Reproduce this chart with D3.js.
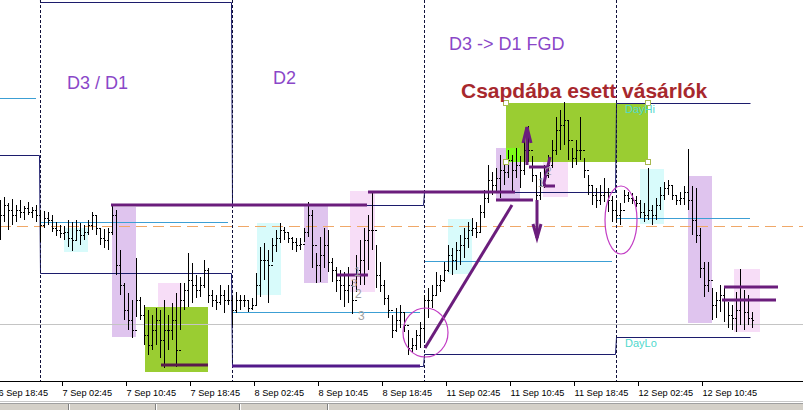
<!DOCTYPE html>
<html><head><meta charset="utf-8">
<script src="https://cdn.jsdelivr.net/npm/d3@7"></script>
<style>body{margin:0;background:#fff;overflow:hidden}svg{display:block}</style>
</head><body><svg id="c" width="803" height="410"></svg>
<script>
// ---- price data (M30 bars, price in pips: 1.2100 -> 2100) ----
const highs = [1900,1903,1897,1901,1895,1900,1894,1898,1893,1895,
1890,1889,1888,1885,1878,1875,1874,1880,1878,1880,1877,1875,1880,1888,1885,1872,1871,1872,1895,1890,
1850,1817,1807,1800,1842,1803,1795,1790,1785,1792,1790,1800,1785,1797,1807,1817,1817,1847,1837,1825,
1823,1840,1832,1810,1805,1815,1810,1815,
1804,1808,1805,1805,1800,1802,1827,1853,1857,1850,1862,1870,1877,1873,1867,1863,1862,1862,1872,1898,
1890,1847,1863,1872,1870,1842,1833,1830,1828,1833,1820,1845,1860,1872,1885,1908,1855,1838,1820,1805,
1785,1792,1795,1788,1770,1762,1770,1778,
1805,1812,1815,1828,1825,1838,1855,1852,1858,1865,1872,1878,1882,1878,1895,1910,1935,1928,1932,1945,
1938,1950,1945,1952,1944,1960,1974,1944,1925,1928,1935,1945,1960,1983,1990,1998,1980,1952,1960,1983,
1942,1925,1914,1912,1915,1922,1912,1904,
1900,1897,1910,1908,1907,1904,1900,1897,1932,1895,1902,1913,1918,1920,1914,1905,1908,1914,1951,1914,
1912,1872,1838,1838,1812,1808,1815,1814,1798,1795,1808,1831,1810,1805,1788];
const lows = [1860,1878,1870,1875,1878,1882,1880,1885,1882,1878,
1858,1872,1875,1868,1864,1862,1860,1853,1849,1860,1855,1860,1865,1870,1865,1855,1852,1850,1865,1825,
1805,1780,1770,1762,1783,1780,1755,1745,1750,1755,1742,1732,1750,1760,1733,1770,1790,1793,1797,1802,
1803,1812,1797,1793,1790,1795,1787,1795,
1775,1787,1790,1793,1788,1790,1795,1803,1820,1797,1838,1848,1857,1860,1857,1850,1848,1850,1858,1863,
1832,1817,1818,1832,1828,1818,1808,1800,1793,1797,1786,1808,1815,1815,1830,1850,1812,1808,1795,1782,
1762,1768,1772,1768,1745,1748,1750,1752,
1760,1782,1792,1805,1808,1818,1828,1825,1830,1835,1842,1852,1864,1862,1868,1882,1897,1905,1908,1902,
1915,1922,1908,1922,1912,1925,1938,1918,1862,1900,1912,1922,1932,1945,1950,1955,1940,1932,1935,1940,
1922,1905,1895,1892,1895,1898,1888,1878,
1877,1875,1897,1898,1896,1893,1882,1878,1880,1875,1880,1890,1900,1905,1900,1895,1895,1895,1890,1865,
1857,1822,1803,1808,1780,1782,1788,1778,1772,1770,1768,1775,1770,1775,1772];
const closes = [1885,1895,1890,1885,1890,1888,1892,1888,1890,1885,
1875,1882,1880,1872,1870,1867,1868,1862,1860,1870,1865,1868,1875,1885,1872,1862,1860,1868,1885,1835,
1815,1790,1780,1770,1800,1785,1765,1755,1770,1780,1760,1770,1770,1780,1750,1800,1810,1820,1815,1810,
1815,1830,1805,1800,1798,1805,1800,1800,
1790,1800,1800,1800,1792,1795,1815,1840,1840,1835,1855,1862,1870,1868,1862,1858,1855,1856,1868,1885,
1855,1835,1845,1855,1838,1830,1820,1815,1810,1815,1800,1830,1840,1860,1870,1870,1825,1815,1802,1790,
1770,1780,1788,1775,1752,1755,1765,1772,
1800,1800,1805,1815,1820,1830,1845,1840,1850,1855,1862,1870,1872,1868,1888,1902,1920,1915,1922,1930,
1928,1940,1930,1935,1930,1950,1950,1925,1905,1915,1925,1935,1950,1970,1975,1980,1960,1942,1950,1950,
1930,1915,1905,1900,1905,1908,1900,1890,
1885,1890,1905,1902,1900,1897,1888,1885,1890,1885,1895,1905,1912,1915,1905,1900,1902,1908,1900,1880,
1865,1832,1815,1820,1795,1800,1805,1800,1785,1782,1790,1800,1788,1782,1780];

// ---- days and daily levels ----
const dayStarts = [-10, 10, 58, 106, 154];
const dayLastBar = [9, 57, 105, 153, 188];
const prevDayHigh = [2150, 2098, 1895, 1908, 1997];
const prevDayLow  = [1945, 1827, 1734, 1746, 1763];
const pivotLevel  = [2002, 1878, 1788, 1839, 1882];
const grayLevel = 1776;
const orangeLevel = 1873.5;

// ---- time axis ----
const tickPos = [-0.5, 15.5, 31.5, 47.5, 63.5, 79.5, 95.5, 111.5, 127.5, 143.5, 159.5, 175.5];
const tickLabels = ["6 Sep 18:45","7 Sep 02:45","7 Sep 10:45","7 Sep 18:45","8 Sep 02:45","8 Sep 10:45",
  "8 Sep 18:45","11 Sep 02:45","11 Sep 10:45","11 Sep 18:45","12 Sep 02:45","12 Sep 10:45"];

// ---- rectangles: start bar, end bar, top price, bottom price, kind ----
const boxStart = [28, 39.5, 36.25, 16, 64.25, 76, 87.5, 112, 124, 126.5, 135.75, 160, 172, 183.5];
const boxEnd   = [34, 45.5, 52, 22, 70.25, 82, 93.75, 118, 130, 162, 142, 166, 178, 190];
const boxTop   = [1893, 1817, 1793, 1872, 1877, 1895, 1909, 1881, 1952, 1997, 1938, 1931, 1924, 1831];
const boxBot   = [1763, 1730, 1728, 1848, 1805, 1817, 1808, 1826, 1900, 1938, 1903, 1876, 1777, 1768];
const boxKind  = ["purple","pink","green","cyan","cyan","purple","pink","cyan","purple","green","pink","cyan","purple","pink"];
const boxColors = {purple:"#dfc4ee", pink:"#f7ddf7", green:"#9acd32", cyan:"#d8fbfb"};

// ---- trend lines: bar1, price1, bar2, price2 ----
const tlBar1  = [27.75, 92, 40.25, 58, 84.25, 124, 106.25, 181, 180.5];
const tlPrice1= [1895, 1908, 1735, 1734, 1825, 1900, 1752, 1813, 1800];
const tlBar2  = [91.75, 128.75, 52, 105, 92, 133.25, 128, 194.5, 194];
const tlPrice2= [1895, 1908, 1735, 1734, 1825, 1900, 1895, 1813, 1800];
const tlColor = ["#6b1d7c","#6b1d7c","#5a1a4c","#521a8a","#6b1d7c","#6b1d7c","#6b1d7c","#6b1d7c","#6b1d7c"];

// ---- arrows / drawn polylines (bar, price pairs) ----
const polyBars = [[131.75,131.75],[130.75,131.75,132.75],[134.25,134.25],[133.25,134.25,135.25],[132.25,137],[137.5,136,136.25,138.75]];
const polyPrices = [[1935,1973],[1957,1973,1957],[1900,1862],[1876,1862,1876],[1933,1933],[1943,1917,1914,1914]];

// ---- ellipses: bar1, bar2, top price, bottom price ----
const ellBar1 = [100.75, 151.25], ellBar2 = [112, 159.25], ellTop = [1792, 1914], ellBot = [1743, 1846];

// ---- text labels ----
const txt = ["D3 / D1","D2","D3 -> D1 FGD","Csapdába esett vásárlók","DayHi","DayLo","1","3","2","3","1","2"];
const txtBar = [16.75, 68.25, 112.25, 115.25, 156.25, 156.25, 88.5, 87.75, 88.75, 89.5, 134.5, 136.4];
const txtPrice = [2011, 2016, 2050, 2002, 1987, 1753, 1824, 1813, 1802, 1780, 1913, 1925];
const txtSize = [18, 18, 18, 21, 11, 11, 12, 11, 12, 12, 12, 11];
const txtColor = ["#8a47c8","#8a47c8","#8a47c8","#a7282d","#50d8cc","#50d8cc","#a0a0a0","#a0a0a0","#a0a0a0","#a0a0a0","#a0a0a0","#a0a0a0"];
const txtWeight = ["normal","normal","normal","bold","normal","normal","normal","normal","normal","normal","normal","normal"];

// ================== drawing ==================
const W = 803, H = 410, plotH = 381;
const svg = d3.select("#c");
const x = d3.scaleLinear().domain([0, 200.75]).range([0, W]);
const y = d3.scaleLinear().domain([1719, 2100]).range([plotH, 0]);

svg.append("defs").append("clipPath").attr("id","clip")
  .append("rect").attr("x",0).attr("y",0).attr("width",W).attr("height",plotH);
svg.append("rect").attr("width",W).attr("height",H).attr("fill","#fff");
const g = svg.append("g").attr("clip-path","url(#clip)");

// rectangles
const boxes = boxStart.map((s,i)=>({s, e:boxEnd[i], t:boxTop[i], b:boxBot[i], k:boxKind[i]}));
g.selectAll("rect.box").data(boxes).join("rect").attr("class","box")
  .attr("x",d=>x(d.s)).attr("y",d=>y(d.t))
  .attr("width",d=>x(d.e)-x(d.s)).attr("height",d=>y(d.b)-y(d.t))
  .attr("fill",d=>boxColors[d.k]);
// overlap of green rectangle over purple rectangle renders bright
boxes.forEach((a,i)=>{ if(a.k!=="green") return;
  boxes.forEach((b,j)=>{ if(b.k!=="purple") return;
    const s=Math.max(a.s,b.s), e=Math.min(a.e,b.e), t=Math.min(a.t,b.t), bo=Math.max(a.b,b.b);
    if(e>s && t>bo) g.append("rect").attr("x",x(s)).attr("y",y(t)).attr("width",x(e)-x(s)).attr("height",y(bo)-y(t)).attr("fill","#7dfc1a");
  });});

// full width horizontal levels
g.append("line").attr("x1",0).attr("x2",W).attr("y1",Math.round(y(grayLevel))+0.5).attr("y2",Math.round(y(grayLevel))+0.5)
  .attr("stroke","#c4c4c4").attr("stroke-width",1);
g.append("line").attr("x1",0).attr("x2",W).attr("y1",y(orangeLevel)).attr("y2",y(orangeLevel))
  .attr("stroke","#f0a868").attr("stroke-width",1.2).attr("stroke-dasharray","11,6");

// pivot (cyan) per day
dayStarts.forEach((s,d)=>{
  const yy = Math.round(y(pivotLevel[d]))+0.5;
  g.append("line").attr("x1",x(s)).attr("x2",x(d===4?187.5:dayLastBar[d]))
   .attr("y1",yy).attr("y2",yy).attr("stroke","#3c9fd4").attr("stroke-width",1);
});
// previous day high/low step lines (navy)
function stepPts(vals){
  const pts=[];
  dayStarts.forEach((s,d)=>{
    const e = d<4 ? x(dayStarts[d+1])-1 : x(187.5);
    const yy = Math.round(y(vals[d]))+0.5;
    pts.push([x(s)+0.5, yy],[e+0.5, yy]);
  });
  return pts;
}
[prevDayHigh, prevDayLow].forEach(vals=>{
  g.append("path").attr("d", d3.line()(stepPts(vals))).attr("fill","none")
   .attr("stroke","#1c1c6c").attr("stroke-width",1);
});

// day separators
dayStarts.slice(1).forEach(s=>{
  g.append("line").attr("x1",x(s)+0.5).attr("x2",x(s)+0.5).attr("y1",0).attr("y2",plotH)
   .attr("stroke","#10103a").attr("stroke-width",1).attr("stroke-dasharray","3,2");
});

// bars (HLC)
const bars = highs.map((h,i)=>({i,h,l:lows[i],c:closes[i],o: i>0?closes[i-1]:closes[i]}));
const bg = g.append("g").attr("stroke","#000").attr("stroke-width",1).attr("shape-rendering","crispEdges");
const bx = i => Math.round(x(i))+0.5;
bg.selectAll("line.hl").data(bars).join("line").attr("class","hl")
  .attr("x1",d=>bx(d.i)).attr("x2",d=>bx(d.i)).attr("y1",d=>Math.round(y(d.h))).attr("y2",d=>Math.round(y(d.l)));
bg.selectAll("line.cl").data(bars).join("line").attr("class","cl")
  .attr("x1",d=>bx(d.i)).attr("x2",d=>bx(d.i)+1.5).attr("y1",d=>Math.round(y(d.c))+0.5).attr("y2",d=>Math.round(y(d.c))+0.5);
bg.selectAll("line.op").data(bars).join("line").attr("class","op")
  .attr("x1",d=>bx(d.i)-1.5).attr("x2",d=>bx(d.i)).attr("y1",d=>Math.round(y(d.o))+0.5).attr("y2",d=>Math.round(y(d.o))+0.5);

// trend lines
tlBar1.forEach((b,i)=>{
  g.append("line").attr("x1",x(b)).attr("y1",y(tlPrice1[i])).attr("x2",x(tlBar2[i])).attr("y2",y(tlPrice2[i]))
   .attr("stroke",tlColor[i]).attr("stroke-width",3).attr("stroke-linecap","butt");
});
// arrows / polylines
polyBars.forEach((bs,i)=>{
  g.append("path").attr("d", d3.line()(bs.map((b,k)=>[x(b), y(polyPrices[i][k])])))
   .attr("fill","none").attr("stroke","#6b1d7c").attr("stroke-width",3).attr("stroke-linejoin","miter");
});
// ellipses
ellBar1.forEach((b,i)=>{
  const x1=x(b), x2=x(ellBar2[i]), y1=y(ellTop[i]), y2=y(ellBot[i]);
  g.append("ellipse").attr("cx",(x1+x2)/2).attr("cy",(y1+y2)/2).attr("rx",(x2-x1)/2).attr("ry",(y2-y1)/2)
   .attr("fill","none").attr("stroke","#c23cc4").attr("stroke-width",1.2);
});
// selection handles on the selected green rectangle
const sel = boxes[9];
[[sel.s,sel.t],[sel.s,sel.b],[sel.e,sel.b],[sel.e,sel.t]].forEach(([b,p])=>{
  g.append("rect").attr("x",Math.round(x(b))-2.5).attr("y",Math.round(y(p))-2.5).attr("width",5).attr("height",5)
   .attr("fill","#ffffff").attr("stroke","#a8b850").attr("stroke-width",1);
});
// texts
txt.forEach((t,i)=>{
  g.append("text").attr("x",x(txtBar[i])).attr("y",y(txtPrice[i])).text(t)
   .attr("font-family","'Liberation Sans', Arial, sans-serif").attr("font-size",txtSize[i])
   .attr("font-weight",txtWeight[i]).attr("fill",txtColor[i]);
});

// ---- time axis ----
const ax = svg.append("g").attr("shape-rendering","crispEdges");
ax.append("line").attr("x1",0).attr("x2",W).attr("y1",plotH+0.5).attr("y2",plotH+0.5).attr("stroke","#000");
tickPos.forEach((p,i)=>{
  ax.append("line").attr("x1",Math.round(x(p))+0.5).attr("x2",Math.round(x(p))+0.5).attr("y1",plotH+1).attr("y2",plotH+5).attr("stroke","#000");
  ax.append("text").attr("x",x(p)+0.5).attr("y",plotH+14.5).text(tickLabels[i])
    .attr("font-family","'Liberation Sans', Arial, sans-serif").attr("font-size",9.2).attr("fill","#000");
});
// bottom tab strip
svg.append("line").attr("x1",0).attr("x2",W).attr("y1",401.5).attr("y2",401.5).attr("stroke","#c8c8c8");
svg.append("rect").attr("x",0).attr("y",403).attr("width",W).attr("height",7).attr("fill","#d4d0c8");
svg.append("line").attr("x1",0).attr("x2",W).attr("y1",403.5).attr("y2",403.5).attr("stroke","#a0a0a0");
[68,155,239,327].forEach(px=>{
  svg.append("line").attr("x1",px+0.5).attr("x2",px+0.5).attr("y1",404).attr("y2",410).attr("stroke","#808080");
  svg.append("line").attr("x1",px+1.5).attr("x2",px+1.5).attr("y1",404).attr("y2",410).attr("stroke","#ffffff");
});
</script></body></html>
